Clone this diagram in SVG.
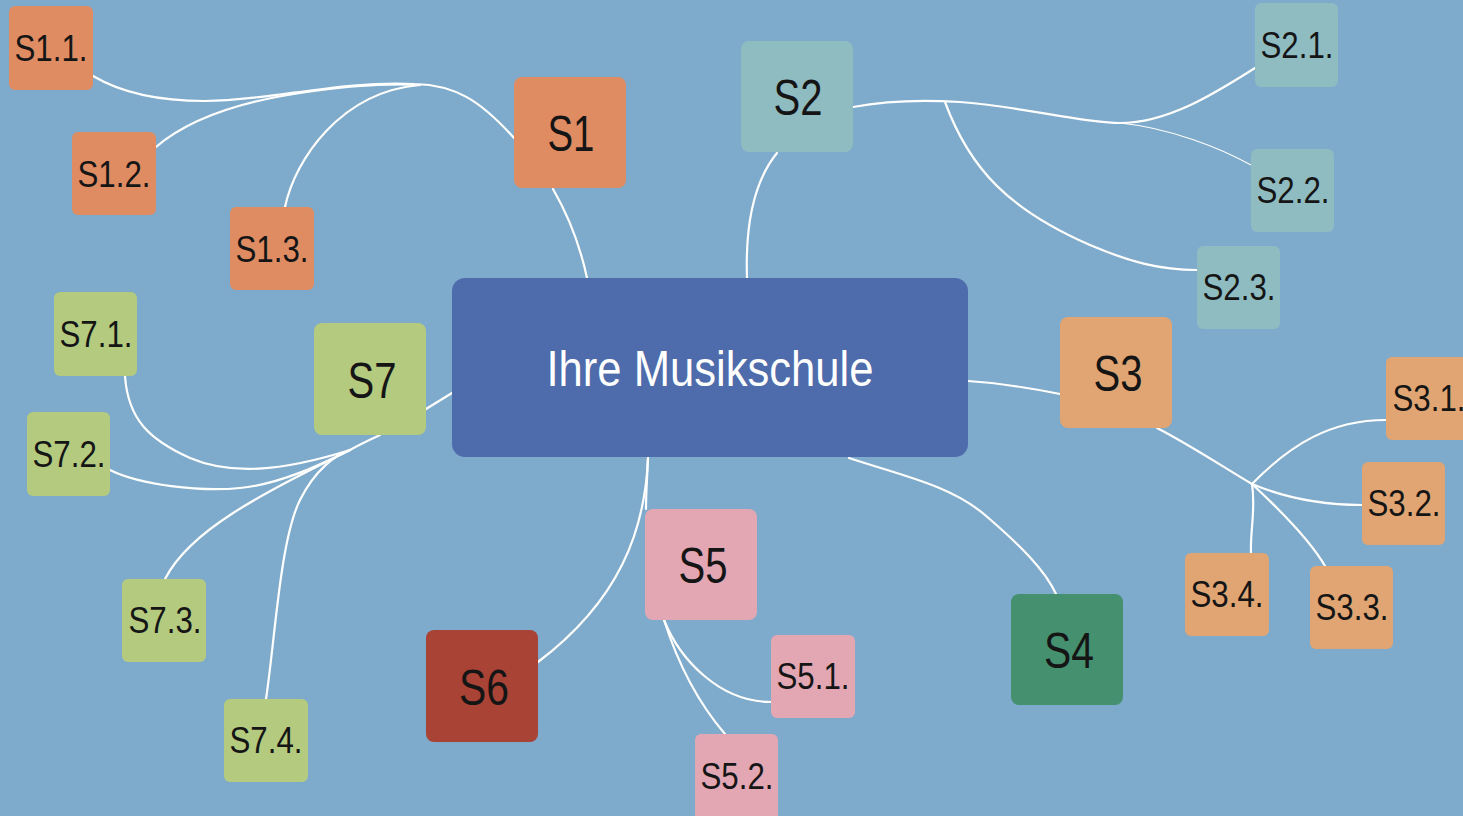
<svg xmlns="http://www.w3.org/2000/svg" width="1463" height="816" viewBox="0 0 1463 816">
<style>
.bg{fill:#7eaacc}
.c1{fill:#e08c63}.c2{fill:#8fbcc1}.c3{fill:#e0a572}.c4{fill:#45906f}.c5{fill:#e2a7b3}.c6{fill:#a84335}.c7{fill:#b3ca7f}
.ctr{fill:#4e6bab}
text{font-family:"Liberation Sans",Arial,sans-serif;fill:#151515;text-anchor:middle}
.sm{font-size:37px}
.bg1{font-size:50px}
.ct{font-size:50px;fill:#ffffff}
.ln{fill:none;stroke:#ffffff;stroke-width:2.2;stroke-linecap:round}
.thin{stroke-width:1.1}
</style>
<rect class="bg" x="0" y="0" width="1463" height="816"/>
<g id="connectors">
<path class="ln" d="M587,278 C580,245 568,215 553,189"/>
<path class="ln" d="M514,138 C480,100 455,85 415,84 C340,80 270,101 205,101 C155,101 120,92 93,76"/>
<path class="ln" d="M156,147 C190,118 240,102 300,93 C340,87 380,83 420,85"/>
<path class="ln" d="M285,207 C295,160 340,92 420,85"/>
<path class="ln" d="M747,278 C745,220 755,180 777,153"/>
<path class="ln" d="M853,107 C890,100 930,100 960,102 C1020,106 1080,123 1120,123 C1170,123 1220,90 1255,68"/>
<path class="ln thin" d="M1120,123 C1170,128 1220,148 1251,165"/>
<path class="ln" d="M945,102 C970,170 1010,210 1090,245 C1130,262 1160,270 1197,270"/>
<path class="ln" d="M968,381 C1000,383 1030,388 1060,394"/>
<path class="ln" d="M1157,428 C1190,445 1220,465 1252,484"/>
<path class="ln" d="M1252,484 C1290,445 1330,420 1386,420"/>
<path class="ln" d="M1252,484 C1290,500 1330,505 1362,505"/>
<path class="ln" d="M1252,484 C1280,510 1310,540 1325,566"/>
<path class="ln" d="M1252,484 C1256,510 1250,530 1251,553"/>
<path class="ln" d="M849,458 C900,475 950,485 985,515 C1020,545 1045,570 1056,594"/>
<path class="ln" d="M648,458 C647,480 646,495 646,509"/>
<path class="ln" d="M648,458 C645,530 620,600 538,662"/>
<path class="ln" d="M664,620 C680,660 720,702 771,702"/>
<path class="ln" d="M664,620 C680,670 700,705 725,734"/>
<path class="ln" d="M452,393 L426,409"/>
<path class="ln" d="M380,435 C365,442 357,446 350,450"/>
<path class="ln" d="M125,376 C128,420 150,440 190,458 C230,475 280,472 350,450"/>
<path class="ln" d="M110,470 C140,485 200,492 240,488 C280,484 320,465 350,450"/>
<path class="ln" d="M165,579 C190,530 260,495 350,450"/>
<path class="ln" d="M266,699 C275,640 280,540 300,500 C315,470 335,455 350,450"/>
</g>
<g id="center"><rect class="ctr" x="452" y="278" width="516" height="179" rx="13"/><text class="ct" x="710" y="386" textLength="327" lengthAdjust="spacingAndGlyphs">Ihre Musikschule</text></g>
<g id="S1"><rect class="c1" x="514" y="77" width="112" height="111" rx="8"/><text class="bg1" x="571" y="151" textLength="47" lengthAdjust="spacingAndGlyphs">S1</text></g>
<g id="S1.1"><rect class="c1" x="9" y="6" width="84" height="84" rx="6"/><text class="sm" x="51" y="61" textLength="73" lengthAdjust="spacingAndGlyphs">S1.1.</text></g>
<g id="S1.2"><rect class="c1" x="72" y="132" width="84" height="83" rx="6"/><text class="sm" x="114" y="187" textLength="73" lengthAdjust="spacingAndGlyphs">S1.2.</text></g>
<g id="S1.3"><rect class="c1" x="230" y="207" width="84" height="83" rx="6"/><text class="sm" x="272" y="262" textLength="73" lengthAdjust="spacingAndGlyphs">S1.3.</text></g>
<g id="S2"><rect class="c2" x="741" y="41" width="112" height="111" rx="8"/><text class="bg1" x="798" y="115" textLength="49" lengthAdjust="spacingAndGlyphs">S2</text></g>
<g id="S2.1"><rect class="c2" x="1255" y="3" width="83" height="84" rx="6"/><text class="sm" x="1297" y="58" textLength="73" lengthAdjust="spacingAndGlyphs">S2.1.</text></g>
<g id="S2.2"><rect class="c2" x="1251" y="149" width="83" height="83" rx="6"/><text class="sm" x="1293" y="203" textLength="73" lengthAdjust="spacingAndGlyphs">S2.2.</text></g>
<g id="S2.3"><rect class="c2" x="1197" y="246" width="83" height="83" rx="6"/><text class="sm" x="1239" y="300" textLength="73" lengthAdjust="spacingAndGlyphs">S2.3.</text></g>
<g id="S3"><rect class="c3" x="1060" y="317" width="112" height="111" rx="8"/><text class="bg1" x="1118" y="391" textLength="49" lengthAdjust="spacingAndGlyphs">S3</text></g>
<g id="S3.1"><rect class="c3" x="1386" y="357" width="84" height="83" rx="6"/><text class="sm" x="1429" y="411" textLength="73" lengthAdjust="spacingAndGlyphs">S3.1.</text></g>
<g id="S3.2"><rect class="c3" x="1362" y="462" width="83" height="83" rx="6"/><text class="sm" x="1404" y="516" textLength="73" lengthAdjust="spacingAndGlyphs">S3.2.</text></g>
<g id="S3.3"><rect class="c3" x="1310" y="566" width="83" height="83" rx="6"/><text class="sm" x="1352" y="620" textLength="73" lengthAdjust="spacingAndGlyphs">S3.3.</text></g>
<g id="S3.4"><rect class="c3" x="1185" y="553" width="84" height="83" rx="6"/><text class="sm" x="1227" y="607" textLength="73" lengthAdjust="spacingAndGlyphs">S3.4.</text></g>
<g id="S4"><rect class="c4" x="1011" y="594" width="112" height="111" rx="8"/><text class="bg1" x="1069" y="668" textLength="50" lengthAdjust="spacingAndGlyphs">S4</text></g>
<g id="S5"><rect class="c5" x="645" y="509" width="112" height="111" rx="8"/><text class="bg1" x="703" y="583" textLength="49" lengthAdjust="spacingAndGlyphs">S5</text></g>
<g id="S5.1"><rect class="c5" x="771" y="635" width="84" height="83" rx="6"/><text class="sm" x="813" y="689" textLength="73" lengthAdjust="spacingAndGlyphs">S5.1.</text></g>
<g id="S5.2"><rect class="c5" x="695" y="734" width="83" height="90" rx="6"/><text class="sm" x="737" y="789" textLength="73" lengthAdjust="spacingAndGlyphs">S5.2.</text></g>
<g id="S6"><rect class="c6" x="426" y="630" width="112" height="112" rx="8"/><text class="bg1" x="484" y="705" textLength="50" lengthAdjust="spacingAndGlyphs">S6</text></g>
<g id="S7"><rect class="c7" x="314" y="323" width="112" height="112" rx="8"/><text class="bg1" x="372" y="398" textLength="49" lengthAdjust="spacingAndGlyphs">S7</text></g>
<g id="S7.1"><rect class="c7" x="54" y="292" width="83" height="84" rx="6"/><text class="sm" x="96" y="347" textLength="73" lengthAdjust="spacingAndGlyphs">S7.1.</text></g>
<g id="S7.2"><rect class="c7" x="27" y="412" width="83" height="84" rx="6"/><text class="sm" x="69" y="467" textLength="73" lengthAdjust="spacingAndGlyphs">S7.2.</text></g>
<g id="S7.3"><rect class="c7" x="122" y="579" width="84" height="83" rx="6"/><text class="sm" x="165" y="633" textLength="73" lengthAdjust="spacingAndGlyphs">S7.3.</text></g>
<g id="S7.4"><rect class="c7" x="224" y="699" width="84" height="83" rx="6"/><text class="sm" x="266" y="753" textLength="73" lengthAdjust="spacingAndGlyphs">S7.4.</text></g>
</svg>
